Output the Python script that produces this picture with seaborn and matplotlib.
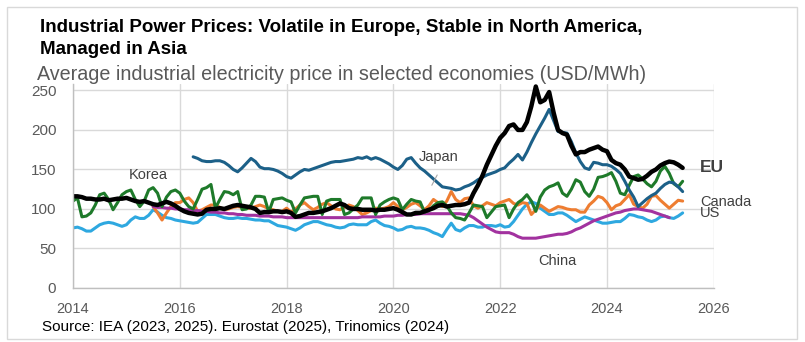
import matplotlib
matplotlib.use("Agg")
import matplotlib.pyplot as plt
import matplotlib.patches as mpatches
import numpy as np
import pandas as pd
import seaborn as sns

# Monthly average industrial electricity prices, USD/MWh
eu = [
    116, 116, 115, 113, 113, 112, 112, 113, 111, 112, 113, 113,   # 2014
    114, 112, 110, 109, 110, 108, 106, 105, 107, 109, 107, 104,   # 2015
    100, 97, 95, 94, 93, 94, 99, 100, 100, 101, 100, 102,         # 2016
    104, 105, 104, 103, 102, 100, 95, 96, 96, 97, 97, 96,         # 2017
    97, 95, 90, 91, 93, 95, 95, 96, 97, 99, 101, 104,             # 2018
    107, 105, 101, 100, 100, 99, 99, 99, 98, 99, 99, 100,         # 2019
    101, 99, 96, 93, 93, 95, 95, 97, 99, 101, 104, 105,           # 2020
    103, 104, 105, 105, 106, 108, 120, 130, 142, 156, 168, 180,   # 2021
    190, 196, 205, 207, 200, 200, 210, 230, 255, 235, 238, 248,   # 2022
    222, 200, 196, 194, 180, 169, 172, 172, 175, 177, 179, 175,   # 2023
    173, 162, 158, 156, 150, 141, 139, 137, 138, 142, 147, 150,   # 2024
    155, 158, 160, 159, 156, 152,                                 # 2025
]
japan = [
    166, 164, 161, 160, 160, 161, 161, 159, 155,                  # 2016 (Apr-)
    150, 147, 152, 158, 164, 160, 153, 151, 151, 150, 148, 145,   # 2017
    141, 139, 143, 147, 150, 149, 151, 153, 155, 157, 159, 160,   # 2018
    160, 161, 162, 163, 165, 164, 166, 163, 165, 163, 160, 157,   # 2019
    153, 150, 155, 163, 165, 158, 152, 148, 143, 138, 133, 128,   # 2020
    127, 126, 124, 125, 128, 130, 133, 137, 140, 143, 145, 147,   # 2021
    150, 152, 158, 163, 169, 162, 172, 184, 195, 205, 215, 226,   # 2022
    212, 198, 197, 196, 185, 171, 160, 152, 150, 159, 158, 156,   # 2023
    156, 154, 150, 145, 135, 124, 115, 103, 108, 113, 117, 120,   # 2024
    126, 131, 134, 133, 128, 122,                                 # 2025
]
korea = [
    110, 114, 90, 91, 95, 105, 118, 120, 112, 99, 108, 118,       # 2014
    122, 124, 112, 103, 110, 124, 127, 120, 103, 115, 122, 124,   # 2015
    120, 110, 103, 100, 112, 125, 127, 131, 101, 112, 122, 121,   # 2016
    118, 122, 99, 100, 105, 116, 116, 115, 96, 112, 113, 114,     # 2017
    111, 109, 95, 105, 114, 115, 116, 116, 93, 110, 112, 112,     # 2018
    112, 93, 95, 100, 105, 114, 114, 114, 93, 105, 109, 112,      # 2019
    114, 112, 99, 106, 112, 110, 109, 96, 98, 104, 108, 109,      # 2020
    104, 95, 89, 88, 86, 95, 105, 104, 103, 89, 96, 103,          # 2021
    104, 105, 89, 100, 108, 112, 118, 110, 97, 115, 124, 128,     # 2022
    130, 133, 120, 116, 125, 137, 134, 122, 116, 125, 140, 141,   # 2023
    143, 146, 135, 120, 118, 130, 141, 143, 138, 132, 128, 135,   # 2024
    148, 154, 145, 132, 128, 135,                                 # 2025
]
canada = [
    103, 95, 86, 95, 103, 108,                                    # 2015 (Jul-)
    108, 112, 114, 108, 97, 99, 102, 105, 105, 102, 99, 100,      # 2016
    102, 103, 102, 101, 101, 103, 105, 103, 100, 99, 97, 97,      # 2017
    101, 96, 100, 105, 108, 103, 99, 102, 106, 108, 104, 100,     # 2018
    99, 102, 105, 103, 98, 93, 95, 98, 101, 100, 101, 103,        # 2019
    108, 103, 99, 102, 106, 108, 104, 99, 104, 112, 108, 103,     # 2020
    110, 122, 112, 108, 113, 114, 104, 101, 104, 108, 106, 104,   # 2021
    108, 110, 112, 107, 105, 108, 107, 93, 99, 105, 101, 97,      # 2022
    100, 103, 102, 100, 99, 99, 96, 96, 105, 110, 116, 114,       # 2023
    108, 99, 104, 106, 112, 118, 106, 103, 101, 106, 116, 117,    # 2024
    111, 106, 101, 106, 111, 110,                                 # 2025
]
us = [
    76, 77, 75, 72, 72, 76, 80, 82, 83, 82, 80, 78,               # 2014
    80, 86, 90, 88, 88, 92, 99, 96, 92, 89, 88, 86,               # 2015
    85, 84, 83, 82, 83, 88, 93, 93, 93, 91, 89, 88,               # 2016
    88, 89, 88, 88, 87, 86, 86, 85, 85, 82, 79, 78,               # 2017
    77, 75, 73, 76, 80, 82, 84, 84, 82, 80, 79, 77,               # 2018
    76, 77, 80, 81, 80, 80, 80, 84, 86, 82, 79, 78,               # 2019
    76, 73, 74, 77, 78, 76, 76, 75, 73, 70, 68, 65,               # 2020
    74, 82, 74, 72, 76, 79, 79, 77, 77, 79, 79, 78,               # 2021
    80, 77, 78, 84, 92, 100, 106, 109, 107, 101, 97, 93,          # 2022
    93, 95, 95, 92, 88, 84, 87, 90, 88, 86, 84, 82,               # 2023
    82, 83, 84, 84, 88, 93, 92, 90, 89, 86, 84, 86,               # 2024
    90, 91, 89, 88, 91, 95,                                       # 2025
]
china = [
    103, 102, 102, 101, 101, 100,                                 # 2015 (Jul-)
    100, 99, 99, 98, 98, 97, 97, 96, 96, 95, 95, 94,              # 2016
    94, 93, 93, 92, 92, 92, 91, 91, 91, 90, 90, 90,               # 2017
    89, 89, 89, 89, 89, 89, 89, 89, 89, 89, 89, 89,               # 2018
    89, 89, 89, 89, 89, 90, 90, 90, 90, 90, 91, 91,               # 2019
    91, 92, 92, 93, 93, 93, 94, 94, 94, 94, 94, 94,               # 2020
    94, 94, 94, 94, 93, 92, 89, 85, 81, 77, 74, 71,               # 2021
    70, 70, 70, 68, 65, 63, 63, 63, 63, 64, 65, 66,               # 2022
    67, 68, 68, 69, 71, 74, 76, 79, 82, 85, 87, 89,               # 2023
    91, 93, 95, 96, 98, 99, 100, 100, 99, 98, 97, 95,             # 2024
    93, 91, 89,                                                   # 2025
]

series = {
    "US": ("2014-01", us),
    "Canada": ("2015-07", canada),
    "China": ("2015-07", china),
    "Korea": ("2014-01", korea),
    "Japan": ("2016-04", japan),
    "EU": ("2014-01", eu),
}
colors = {
    "US": "#2ea8e0",
    "Canada": "#ee7d31",
    "China": "#a2329f",
    "Korea": "#1e7a2a",
    "Japan": "#1c6088",
    "EU": "#000000",
}
widths = {"US": 2.2, "Canada": 2.2, "China": 2.2, "Korea": 2.2, "Japan": 2.2, "EU": 3.2}

frames = []
for name, (start, vals) in series.items():
    dates = pd.date_range(start, periods=len(vals), freq="MS")
    frames.append(pd.DataFrame({
        "year": dates.year + (dates.month - 1) / 12.0,
        "price": vals,
        "economy": name,
    }))
df = pd.concat(frames, ignore_index=True)

sns.set_theme(style="white")
plt.rcParams["font.family"] = ["Liberation Sans", "DejaVu Sans"]

fig = plt.figure(figsize=(8.05, 3.42), dpi=100)
ax = fig.add_axes([0.0907, 0.158, 0.796, 0.596])

for name in series:
    sub = df[df["economy"] == name]
    sns.lineplot(data=sub, x="year", y="price", ax=ax, color=colors[name],
                 linewidth=widths[name], legend=False)

ax.set_xlim(2014, 2026)
ax.set_ylim(0, 258)
ax.set_xticks(range(2014, 2027, 2))
ax.set_yticks(range(0, 251, 50))
ax.grid(True, color="#d9d9d9", linewidth=1.0)
ax.set_axisbelow(True)
for s in ["top", "right"]:
    ax.spines[s].set_visible(False)
for s in ["left", "bottom"]:
    ax.spines[s].set_color("#bfbfbf")
    ax.spines[s].set_linewidth(1.0)
ax.set_xlabel("")
ax.set_ylabel("")
ax.tick_params(axis="both", length=0, colors="#595959")
ax.tick_params(axis="y", labelsize=11, pad=12)
ax.tick_params(axis="x", labelsize=10.5, pad=10)

# Series labels
lab = dict(color="#404040", fontsize=10.5)
ax.text(2015.40, 143, "Korea", ha="center", va="center", **lab)
ax.text(2020.85, 166, "Japan", ha="center", va="center", **lab)
ax.plot([2020.82, 2020.72], [143, 130], color="#a6a6a6", linewidth=0.8)
ax.text(2023.08, 34, "China", ha="center", va="center", **lab)
ax.text(2025.74, 152, "EU", ha="left", va="center", color="#404040",
        fontsize=12.5, fontweight="bold")
ax.text(2025.74, 109, "Canada", ha="left", va="center", **lab)
ax.text(2025.74, 95, "US", ha="left", va="center", **lab)

fig.text(40 / 805, 1 - 28 / 342, "Industrial Power Prices: Volatile in Europe, Stable in North America,",
         ha="left", va="center", fontsize=13.5, fontweight="bold", color="#000000")
fig.text(40 / 805, 1 - 50 / 342, "Managed in Asia",
         ha="left", va="center", fontsize=13.5, fontweight="bold", color="#000000")
fig.text(37 / 805, 1 - 75 / 342, "Average industrial electricity price in selected economies (USD/MWh)",
         ha="left", va="center", fontsize=14.2, color="#595959")
fig.text(42 / 805, 1 - 327 / 342, "Source: IEA (2023, 2025). Eurostat (2025), Trinomics (2024)",
         ha="left", va="center", fontsize=11, color="#000000")

fig.patches.append(mpatches.Rectangle((7 / 805, 3 / 342), 790 / 805, 332 / 342,
                                      transform=fig.transFigure, fill=False,
                                      edgecolor="#d9d9d9", linewidth=1.0))

fig.savefig("out.png", dpi=100)
